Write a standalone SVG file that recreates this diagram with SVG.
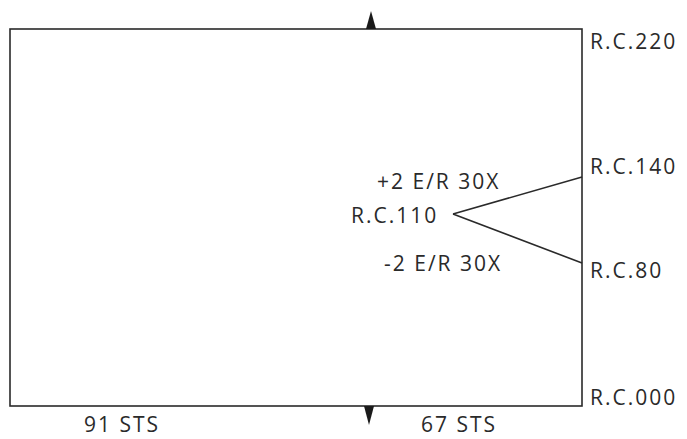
<svg xmlns="http://www.w3.org/2000/svg" width="687" height="439" viewBox="0 0 687 439">
<style>
text{font-family:"Open Sans","Liberation Sans",sans-serif;font-size:21px;letter-spacing:2px;fill:#2a2a2a;}
.ln{stroke:#2a2a2a;stroke-width:1.6;fill:none;}
</style>
<rect width="687" height="439" fill="#fff"/>
<g id="frame">
<rect class="ln" x="10" y="29" width="572" height="377"/>
</g>
<g id="connectors">
<path class="ln" d="M453 214 L582 177 M453 214 L582 263"/>
<polygon points="366,29 376,29 371,11" fill="#1a1a1a"/>
<polygon points="364,406 374,406 369,425" fill="#1a1a1a"/>
</g>
<g id="labels">
<text x="590" y="49">R.C.220</text>
<text x="590" y="174">R.C.140</text>
<text x="590" y="278">R.C.80</text>
<text x="590" y="405">R.C.000</text>
<text x="377" y="189">+2 E/R 30X</text>
<text x="351" y="223">R.C.110</text>
<text x="384" y="271">-2 E/R 30X</text>
<text x="84" y="432">91 STS</text>
<text x="421" y="432">67 STS</text>
</g>
</svg>
